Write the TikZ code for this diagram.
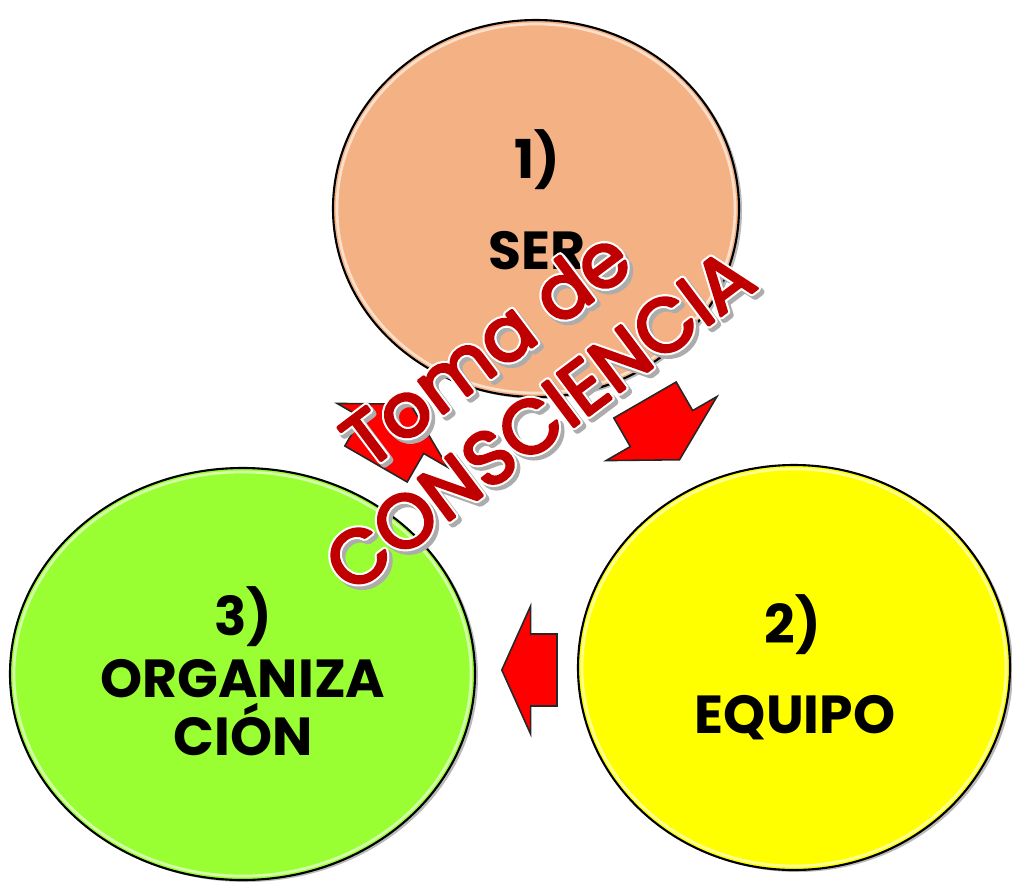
\documentclass[tikz,border=0pt]{standalone}
\usepackage{fontspec}
\setmainfont{Poppins}
\usetikzlibrary{shapes.geometric,calc}

\definecolor{salmon}{RGB}{244,177,131}
\definecolor{lime}{RGB}{153,255,51}
\definecolor{sun}{RGB}{255,255,0}
\definecolor{darkred}{RGB}{192,0,0}

% glyphs filled and stroked with the text colour
\newcommand{\stroked}[2]{\special{pdf:literal direct 2 Tr 1 j #1 w}#2\special{pdf:literal direct 0 Tr}}

\tikzset{
  bubble/.style={ellipse, draw=black, line width=1.2pt, inner sep=0pt},
  bubble shadow/.style={ellipse, fill=gray!55, inner sep=0pt},
  label text/.style={anchor=base, inner sep=0pt, text=black,
    font=\fontsize{30.5}{36}\selectfont\bfseries},
  big text/.style={anchor=base, rotate=37, inner sep=0pt,
    font=\fontsize{43}{50}\selectfont},
  red arrow/.style={fill=red, draw=black!85, line width=0.9pt, line join=miter},
  block arrow/.pic={
    \draw [red arrow] (0,-36) -- (33,-36) -- (33,-64) -- (69,0)
      -- (33,64) -- (33,36) -- (0,36) -- cycle;
  }
}

\begin{document}
\begin{tikzpicture}[x=0.02cm, y=-0.02cm]

\useasboundingbox (0,0) rectangle (1012,886);

% the three stages
\foreach \n/\c/\x/\y/\w/\h in {ser/salmon/536/208.5/406/377,
    equipo/sun/794/667.5/432/405, organizacion/lime/242.5/674/465/412} {
  \node [bubble shadow, minimum width=\w*0.02cm, minimum height=\h*0.02cm]
    (\n-shadow) at (\x+3,\y+2) {};
  \node [bubble, fill=\c, minimum width=\w*0.02cm, minimum height=\h*0.02cm]
    (\n) at (\x,\y) {};
  \draw [white, opacity=0.6, line width=1.5pt]
    (\n.center) ellipse [x radius=\w/2-4, y radius=\h/2-4];
}

\node [label text] (ser-num) at (537,178) {1)};
\node [label text] (ser-name) at (537,269) {SER};
\node [label text] (equipo-num) at (793,643) {2)};
\node [label text] (equipo-name) at (795,733) {EQUIPO};
\node [label text] (organizacion-num) at (243,635) {3)};
\node [label text] (organizacion-name) at (243,697) {ORGANIZA};
\node [label text] (organizacion-rest) at (243,755) {CIÓN};

% arrows of the cycle
\pic [rotate=-60] (ser-to-equipo) at (645,400) {block arrow};
\pic [rotate=180, xscale=0.8] (equipo-to-organizacion) at (557,670) {block arrow};
\pic [rotate=60] (organizacion-to-ser) at (376,464) {block arrow};

% rotated title: shadow, white rim, red letters
\coordinate (toma-base) at (501.6,369.8);
\coordinate (cons-base) at (555.2,440.9);

\foreach \p/\t in {toma-base/Toma de, cons-base/CONSCIENCIA} {
  \node [big text, text=gray!65] (\p-shadow) at ($(\p)+(3.5,3.5)$) {\stroked{4}{\t}};
  \node [big text, text=white] (\p-rim) at (\p) {\stroked{4}{\t}};
}
\node [big text, text=darkred] (toma) at (toma-base) {\stroked{1.6}{Toma de}};
\node [big text, text=darkred] (consciencia) at (cons-base) {\stroked{1.6}{CONSCIENCIA}};

\end{tikzpicture}
\end{document}
